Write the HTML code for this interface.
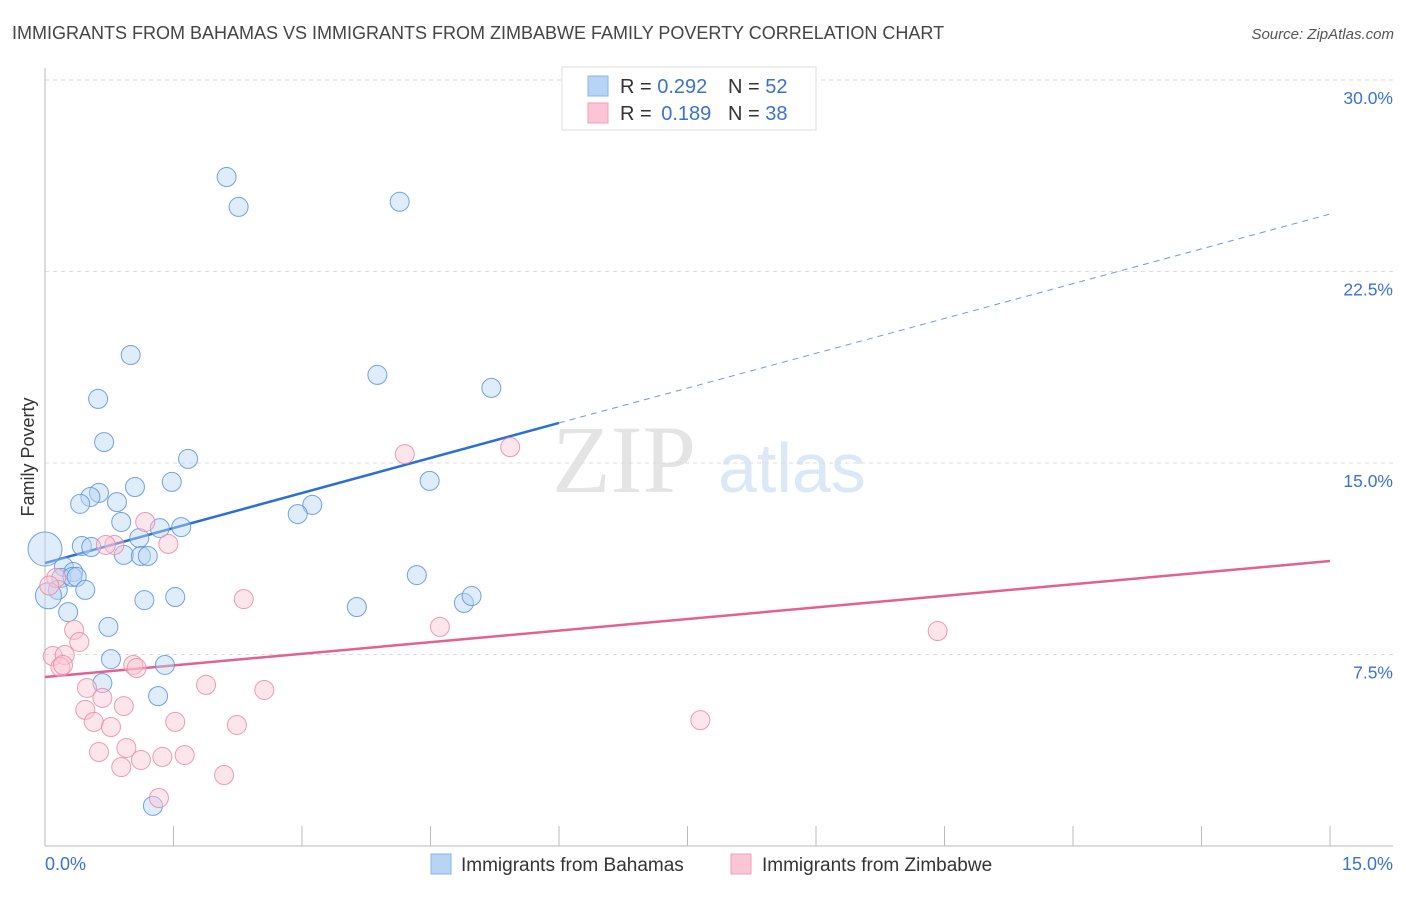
<!DOCTYPE html>
<html><head><meta charset="utf-8"><style>
body{margin:0;background:#fff;font-family:"Liberation Sans",sans-serif}
svg text{font-family:"Liberation Sans",sans-serif}
</style></head><body>
<svg id="chart" width="1406" height="892" viewBox="0 0 1406 892" xmlns="http://www.w3.org/2000/svg">
<text x="12" y="39" font-size="18" fill="#444">IMMIGRANTS FROM BAHAMAS VS IMMIGRANTS FROM ZIMBABWE FAMILY POVERTY CORRELATION CHART</text>
<text x="1394" y="39" font-size="15" fill="#555" text-anchor="end" font-style="italic">Source: ZipAtlas.com</text>
<g>
<text x="552" y="492" font-size="96" fill="#e4e4e4" font-family="Liberation Serif" style="font-family:'Liberation Serif',serif">ZIP</text>
<text x="718" y="492" font-size="70" fill="#dce8f6">atlas</text>
</g>
<text transform="translate(34,457) rotate(-90)" font-size="18" fill="#333" text-anchor="middle">Family Poverty</text>
<g id="grid"></g><g id="axes"></g><g id="lines"></g><g id="pts"></g>
<g>
<rect x="562" y="67" width="254" height="63" fill="#fff" stroke="#ddd"/>
<rect x="588" y="76" width="20" height="20" fill="#b8d4f5" stroke="#8ab4e8"/>
<rect x="588" y="103" width="20" height="20" fill="#fbc5d5" stroke="#f0a0b8"/>
<text x="620" y="93" font-size="20" fill="#333">R = <tspan fill="#3a72d0">0.292</tspan></text>
<text x="728" y="93" font-size="20" fill="#333">N = <tspan fill="#3a72d0">52</tspan></text>
<text x="620" y="120" font-size="20" fill="#333">R = <tspan fill="#3a72d0" dx="4">0.189</tspan></text>
<text x="728" y="120" font-size="20" fill="#333">N = <tspan fill="#3a72d0">38</tspan></text>
</g>
<g>
<rect x="431" y="854" width="20" height="20" fill="#b8d4f5" stroke="#8ab4e8"/>
<text x="461" y="871" font-size="19" fill="#333">Immigrants from Bahamas</text>
<rect x="731" y="854" width="20" height="20" fill="#fbc5d5" stroke="#f0a0b8"/>
<text x="762" y="871" font-size="19" fill="#333">Immigrants from Zimbabwe</text>
</g>
</svg>
<script>
const yTicks=[7.5,15,22.5,30];
const yTickLabels=["7.5%","15.0%","22.5%","30.0%"];
const xTicks=[0,1.5,3,4.5,6,7.5,9,10.5,12,13.5,15];
const bahamasX=[2.12,2.26,4.14,1.00,3.88,5.21,0.62,0.69,1.67,1.48,4.49,1.05,0.63,0.53,0.41,0.84,3.12,2.95,0.89,1.34,1.59,1.10,0.43,0.54,0.92,1.12,1.20,0.22,0.33,0.19,0.32,0.37,4.34,0.15,0.47,1.16,1.52,3.64,4.89,4.98,0.27,0.74,0.77,1.40,0.67,1.32,1.26];
const bahamasY=[26.20,25.03,25.23,19.23,18.45,17.94,17.51,15.82,15.16,14.26,14.30,14.06,13.83,13.67,13.40,13.47,13.36,13.00,12.69,12.45,12.49,12.06,11.75,11.71,11.40,11.36,11.36,10.93,10.73,10.50,10.54,10.54,10.61,10.03,10.03,9.63,9.75,9.36,9.52,9.79,9.16,8.58,7.32,7.09,6.38,5.87,1.57];
const bahamasBigX=[0,0.04];
const bahamasBigY=[11.63,9.8];
const zimX=[4.20,5.43,1.17,0.81,1.44,0.71,0.13,2.32,4.61,10.42,0.34,0.40,0.09,0.23,0.18,0.21,1.03,1.07,1.88,2.56,0.49,0.67,0.47,0.92,0.57,1.52,2.24,0.77,7.65,0.63,0.95,1.63,1.37,1.12,0.89,2.09,1.33,0.05];
const zimY=[15.35,15.62,12.69,11.79,11.83,11.79,10.50,9.67,8.58,8.42,8.46,7.99,7.44,7.48,7.01,7.09,7.09,6.97,6.31,6.11,6.19,5.80,5.33,5.48,4.86,4.86,4.74,4.66,4.93,3.68,3.84,3.56,3.49,3.37,3.09,2.78,1.88,10.2];
const blueTrend=[[0,11.08],[6.0,16.57],[15,24.75]];
const pinkTrend=[[0,6.62],[15,11.16]];
const X=v=>45+v/15*1285, Y=v=>846-v/7.5*191.5;
const NS="http://www.w3.org/2000/svg";
function mk(t,a,p){const e=document.createElementNS(NS,t);for(const k in a)e.setAttribute(k,a[k]);document.getElementById(p).appendChild(e);return e;}
yTicks.forEach((t,i)=>{
 const l=mk('line',{x1:45,x2:1393,y1:Y(t),y2:Y(t),stroke:'#ddd','stroke-dasharray':'4,4'},'grid');
 
 
 const tx=mk('text',{x:1393,y:Y(t)+24,'font-size':17.5,fill:'#3a72d0','text-anchor':'end'},'axes');tx.textContent=yTickLabels[i];
 
 
});
let a=mk('line',{x1:45,x2:45,y1:68,y2:846,stroke:'#bbb'},'axes');


a=mk('line',{x1:45,x2:1393,y1:846,y2:846,stroke:'#bbb'},'axes');


xTicks.forEach(t=>{const l=mk('line',{x1:X(t),x2:X(t),y1:826,y2:846,stroke:'#bbb'},'axes');
 
 });
let t=mk('text',{x:45,y:870,'font-size':18,fill:'#3a72d0'},'axes');t.textContent='0.0%';


t=mk('text',{x:1393,y:870,'font-size':18,fill:'#3a72d0','text-anchor':'end'},'axes');t.textContent='15.0%';


function pt(x,y,r,fill,stroke,name){const c=mk('circle',{cx:X(x),cy:Y(y),r:r,fill:fill,'fill-opacity':0.45,stroke:stroke,'stroke-width':1,'stroke-opacity':0.85},'pts');
 
 }
bahamasX.forEach((x,i)=>pt(x,bahamasY[i],9.5,'#b8d4f5','#5a93e0','bahamas-point'));
bahamasBigX.forEach((x,i)=>pt(x,bahamasBigY[i],i?13:17,'#b8d4f5','#5a93e0','bahamas-point'));
zimX.forEach((x,i)=>pt(x,zimY[i],9.5,'#fbc5d5','#ec8aa8','zimbabwe-point'));
let l=mk('line',{x1:X(blueTrend[0][0]),y1:Y(blueTrend[0][1]),x2:X(blueTrend[1][0]),y2:Y(blueTrend[1][1]),stroke:'#2a6fd6','stroke-width':2.5},'lines');


l=mk('line',{x1:X(blueTrend[1][0]),y1:Y(blueTrend[1][1]),x2:X(blueTrend[2][0]),y2:Y(blueTrend[2][1]),stroke:'#6a9be0','stroke-width':1,'stroke-dasharray':'6,5'},'lines');


l=mk('line',{x1:X(pinkTrend[0][0]),y1:Y(pinkTrend[0][1]),x2:X(pinkTrend[1][0]),y2:Y(pinkTrend[1][1]),stroke:'#e46090','stroke-width':2.5},'lines');


</script>
</body></html>
